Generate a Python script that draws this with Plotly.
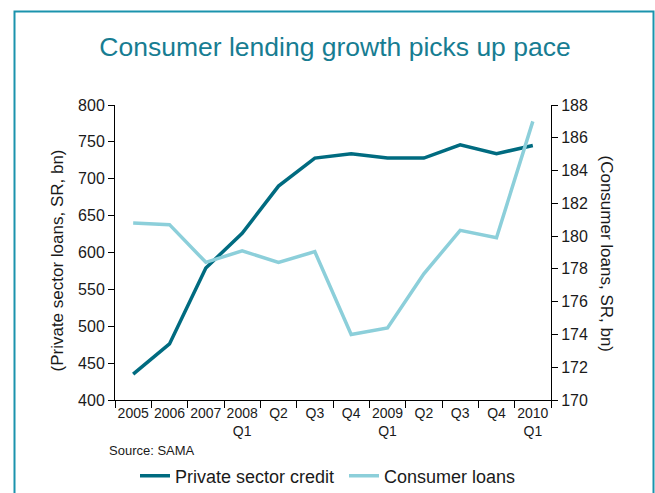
import plotly.graph_objects as go

periods = ["2005", "2006", "2007", "2008<br>Q1", "Q2", "Q3", "Q4",
           "2009<br>Q1", "Q2", "Q3", "Q4", "2010<br>Q1"]
private_credit = [435, 476, 579, 626, 690, 728, 734, 728, 728, 746, 734, 745]
consumer_loans = [180.8, 180.7, 178.4, 179.1, 178.4, 179.05, 174.0, 174.4,
                  177.7, 180.35, 179.9, 187.0]

left_ticks = list(range(400, 801, 50))
right_ticks = list(range(170, 189, 2))

DARK = "#006b80"
LIGHT = "#8ccfda"
FONT = "Liberation Sans Narrow, Arial Narrow, Liberation Sans, sans-serif"

x = list(range(len(periods)))

fig = go.Figure()
fig.add_trace(go.Scatter(x=x, y=private_credit, mode="lines",
                         name="Private sector credit",
                         line=dict(color=DARK, width=3.5)))
fig.add_trace(go.Scatter(x=x, y=consumer_loans, mode="lines",
                         name="Consumer loans", yaxis="y2",
                         line=dict(color=LIGHT, width=3.5)))

L, R, T, B = 115, 104, 105, 93
W, H = 655, 493
pw, ph = W - L - R, H - T - B

def px(v):
    return (v - L) / pw

def py(v):
    return (H - B - v) / ph

fig.update_layout(
    width=W, height=H,
    margin=dict(l=L, r=R, t=T, b=B, autoexpand=False),
    paper_bgcolor="white", plot_bgcolor="white",
    font=dict(family=FONT, color="#1a1a1a", size=16),
    title=dict(text="Consumer lending growth picks up pace",
               x=335 / W, xanchor="center", y=1 - 47 / H, yanchor="middle",
               yref="container",
               font=dict(family=FONT, size=26.5, color="#177d92")),
    xaxis=dict(range=[-0.5, len(periods) - 0.5],
               tickvals=x, ticktext=periods, ticks="", ticklen=0,
               showgrid=False, zeroline=False, showline=True,
               linecolor="black", linewidth=1,
               tickfont=dict(size=14),
               minor=dict(tickvals=[i - 0.5 for i in range(len(periods) + 1)],
                          ticks="outside", ticklen=7, tickcolor="black",
                          showgrid=False)),
    yaxis=dict(range=[400, 800], tickvals=left_ticks, ticks="outside",
               ticklen=6, tickcolor="black", showgrid=False, zeroline=False,
               showline=True, linecolor="black", linewidth=1,
               tickfont=dict(size=16)),
    yaxis2=dict(range=[170, 188], tickvals=right_ticks, ticks="outside",
                ticklen=6, tickcolor="black", showgrid=False, zeroline=False,
                showline=True, linecolor="black", linewidth=1,
                overlaying="y", side="right", tickfont=dict(size=16)),
    showlegend=True,
    legend=dict(orientation="h", x=px(135), xanchor="left",
                y=py(476), yanchor="middle", font=dict(size=18),
                itemwidth=30, entrywidth=164, entrywidthmode="pixels",
                bgcolor="rgba(0,0,0,0)"),
    annotations=[
        dict(text="(Private sector loans, SR, bn)", textangle=-90,
             x=px(45), y=py(261), xref="paper", yref="paper",
             showarrow=False, font=dict(size=17)),
        dict(text="(Consumer loans, SR, bn)", textangle=90,
             x=px(618), y=py(254), xref="paper", yref="paper",
             showarrow=False, font=dict(size=17)),
        dict(text="Source: SAMA", x=px(107), y=py(450), xref="paper",
             yref="paper", xanchor="left", yanchor="middle",
             showarrow=False, font=dict(size=13)),
    ],
    shapes=[
        dict(type="rect", xref="paper", yref="paper",
             x0=px(14.5), x1=px(653.5), y0=py(520), y1=py(11.5),
             line=dict(color="#1b93ad", width=2), layer="below"),
    ],
)

fig.write_html("out.html")
